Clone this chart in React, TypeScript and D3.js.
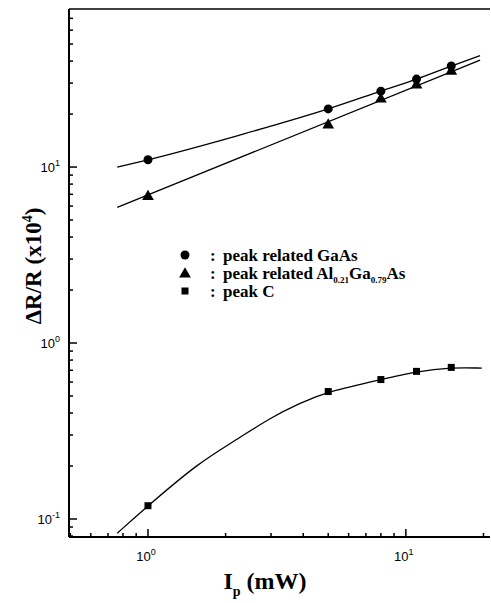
import React from 'react';
import * as d3 from 'd3';

// measured points (Ip in mW, dR/R in x10^4)
const ipData = [1, 5, 8, 11, 15];
const gaasVals = [11, 21.4, 27, 31.6, 37.5];
const alGaAsVals = [6.8, 17.3, 24.3, 29.2, 35];
const peakCVals = [0.119, 0.53, 0.62, 0.69, 0.727];

// fitted curves
const gaasFitX = [0.76, 1, 2.27, 5, 8, 11, 15, 19.4];
const gaasFitY = [10, 11, 15.2, 21.4, 27, 31.6, 37.5, 43];
const alFitX = [0.76, 19.4];
const alFitY = [5.9, 40.5];
const cFitX = [0.76, 1, 1.59, 2.14, 2.97, 3.88, 5, 8, 11, 15, 19.7];
const cFitY = [0.083, 0.119, 0.211, 0.274, 0.375, 0.456, 0.53, 0.62, 0.69, 0.727, 0.72];

const xDecades = [0, 1];
const yDecades = [-1, 0, 1];

const W = 491;
const H = 603;
const serif = "'Liberation Serif', 'Times New Roman', serif";
const sans = "'Liberation Sans', Arial, sans-serif";

const App = () => {
  const x = d3.scaleLog().domain([0.494, 21.2]).range([69, 490]);
  const y = d3.scaleLog().domain([0.079, 79.1]).range([537, 9]);
  const [x0, x1] = x.range();
  const [y0, y1] = y.range();

  const line = d3
    .line<[number, number]>()
    .x((d) => x(d[0]))
    .y((d) => y(d[1]))
    .curve(d3.curveMonotoneX);
  const smooth = d3
    .line<[number, number]>()
    .x((d) => x(d[0]))
    .y((d) => y(d[1]))
    .curve(d3.curveBasis);

  const pairs = (xs: number[], ys: number[]) => xs.map((v, i) => [v, ys[i]] as [number, number]);

  // minor ticks: 2..9 x 10^d inside domain
  const minor = (scale: any, from: number, to: number) => {
    const out: number[] = [];
    const [a, b] = scale.domain();
    for (let d = from; d <= to; d++) {
      for (let k = 2; k <= 9; k++) {
        const v = k * Math.pow(10, d);
        if (v > a && v < b) out.push(v);
      }
    }
    return out;
  };
  const xMinor = minor(x, -1, 1);
  const yMinor = minor(y, -2, 1);

  const tri = d3.symbol().type(d3.symbolTriangle).size(60)();

  return (
    <svg width={W} height={H} style={{ position: 'absolute', left: 0, top: 0, background: '#fff' }}>
      {/* axes frame: left, bottom, top */}
      <g stroke="#000" strokeWidth={2} fill="none">
        <line x1={x0} x2={x0} y1={y0} y2={y1} />
        <line x1={x0} x2={x1} y1={y0} y2={y0} />
        <line x1={x0} x2={x1} y1={y1} y2={y1} strokeWidth={1.5} />
      </g>

      {/* y ticks */}
      <g stroke="#000" strokeWidth={1.5}>
        {yDecades.map((d) => (
          <line key={'ym' + d} x1={x0} x2={x0 + 8} y1={y(Math.pow(10, d))} y2={y(Math.pow(10, d))} />
        ))}
        {yMinor.map((v) => (
          <line key={'yn' + v} x1={x0} x2={x0 + 4} y1={y(v)} y2={y(v)} />
        ))}
      </g>
      {yDecades.map((d) => (
        <text key={'yl' + d} x={x0 - 9} y={y(Math.pow(10, d)) + 5} textAnchor="end" fontFamily={sans} fontSize={13}>
          10
          <tspan fontSize={9} dy={-6}>
            {d}
          </tspan>
        </text>
      ))}

      {/* x ticks */}
      <g stroke="#000" strokeWidth={1.5}>
        {xDecades.map((d) => (
          <line key={'xm' + d} x1={x(Math.pow(10, d))} x2={x(Math.pow(10, d))} y1={y0} y2={y0 - 8} />
        ))}
        {xMinor.map((v) => (
          <line key={'xn' + v} x1={x(v)} x2={x(v)} y1={y0} y2={y0 - 4} />
        ))}
      </g>
      {xDecades.map((d) => (
        <text key={'xl' + d} x={x(Math.pow(10, d)) - 2} y={y0 + 24} textAnchor="middle" fontFamily={sans} fontSize={13}>
          10
          <tspan fontSize={9} dy={-6}>
            {d}
          </tspan>
        </text>
      ))}

      {/* fitted curves */}
      <g fill="none" stroke="#000" strokeWidth={1.3}>
        <path d={line(pairs(gaasFitX, gaasFitY)) || ''} />
        <path d={line(pairs(alFitX, alFitY)) || ''} />
        <path d={smooth(pairs(cFitX, cFitY)) || ''} />
      </g>

      {/* markers */}
      {ipData.map((v, i) => (
        <circle key={'c' + i} cx={x(v)} cy={y(gaasVals[i])} r={4.5} fill="#000" />
      ))}
      {ipData.map((v, i) => (
        <path key={'t' + i} d={tri || ''} transform={`translate(${x(v)},${y(alGaAsVals[i])})`} fill="#000" />
      ))}
      {ipData.map((v, i) => (
        <rect key={'s' + i} x={x(v) - 3.5} y={y(peakCVals[i]) - 3.5} width={7} height={7} fill="#000" />
      ))}

      {/* legend */}
      <g fontFamily={serif} fontWeight="bold" fontSize={17}>
        <circle cx={185} cy={255} r={4.5} fill="#000" />
        <text x={210} y={261}>:</text>
        <text x={223} y={261}>peak related GaAs</text>
        <path d={tri || ''} transform="translate(185,274)" fill="#000" />
        <text x={210} y={279}>:</text>
        <text x={223} y={279}>
          peak related Al
          <tspan fontSize={9} dy={4}>0.21</tspan>
          <tspan dy={-4}>Ga</tspan>
          <tspan fontSize={9} dy={4}>0.79</tspan>
          <tspan dy={-4}>As</tspan>
        </text>
        <rect x={181.5} y={287.5} width={7} height={7} fill="#000" />
        <text x={210} y={297}>:</text>
        <text x={223} y={297}>peak C</text>
      </g>

      {/* axis titles */}
      <text transform="translate(41,266) rotate(-90)" textAnchor="middle" fontFamily={serif} fontWeight="bold" fontSize={23}>
        ΔR/R (x10
        <tspan fontSize={14} dy={-9}>4</tspan>
        <tspan dy={9}>)</tspan>
      </text>
      <text x={265} y={589} textAnchor="middle" fontFamily={serif} fontWeight="bold" fontSize={24}>
        I
        <tspan fontSize={14} dy={7}>p</tspan>
        <tspan dy={-7}> (mW)</tspan>
      </text>
    </svg>
  );
};

export default App;
